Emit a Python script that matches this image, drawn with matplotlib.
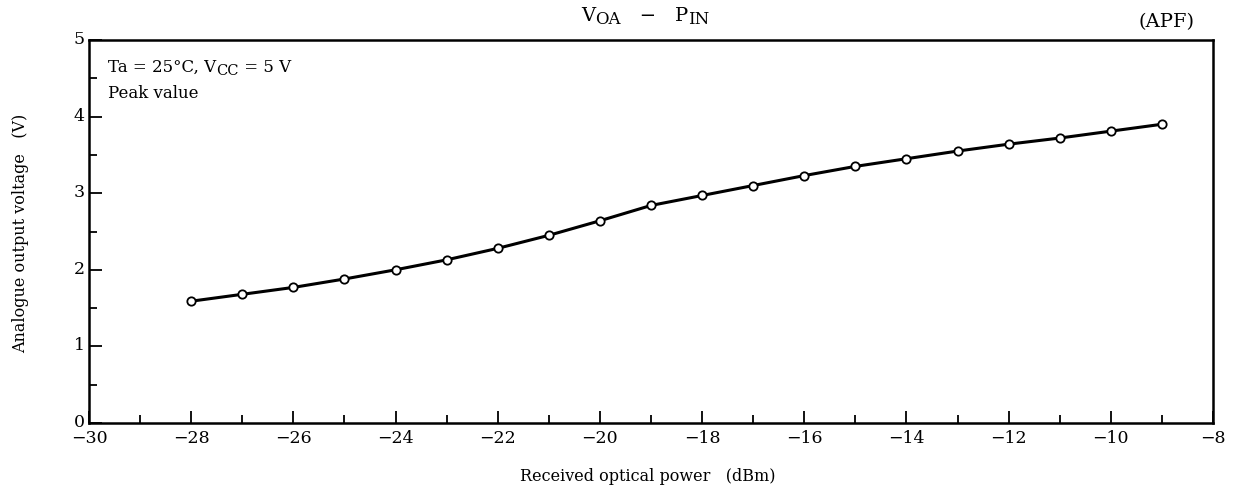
import matplotlib
matplotlib.use("Agg")
import matplotlib.pyplot as plt
from matplotlib.ticker import MultipleLocator
from matplotlib.transforms import IdentityTransform, ScaledTranslation

power_dbm = [-28, -27, -26, -25, -24, -23, -22, -21, -20, -19,
             -18, -17, -16, -15, -14, -13, -12, -11, -10, -9]
voltage_v = [1.59, 1.68, 1.77, 1.88, 2.00, 2.13, 2.28, 2.45, 2.64, 2.84,
             2.97, 3.10, 3.23, 3.35, 3.45, 3.55, 3.64, 3.72, 3.81, 3.90]
x_ticks = [-30, -28, -26, -24, -22, -20, -18, -16, -14, -12, -10, -8]
y_ticks = [0, 1, 2, 3, 4, 5]

plt.rcParams['font.family'] = ['DejaVu Serif']

W, H = 1234, 491
fig = plt.figure(figsize=(W / 100, H / 100), dpi=100)
ax = fig.add_axes([89 / W, 1 - 423 / H, (1213 - 89) / W, (423 - 40) / H])

ax.plot(power_dbm, voltage_v, color='black', lw=2.2, marker='o',
        markersize=6, markerfacecolor='white', markeredgecolor='black',
        markeredgewidth=1.3, zorder=3)

ax.set_xlim(-30, -8)
ax.set_ylim(0, 5)
ax.set_xticks(x_ticks)
ax.set_xticklabels(['\u2212' + str(abs(v)) for v in x_ticks])
ax.set_yticks(y_ticks)
ax.xaxis.set_minor_locator(MultipleLocator(1))
ax.yaxis.set_minor_locator(MultipleLocator(0.5))
ax.tick_params(which='both', direction='in', labelsize=12.5, width=1.3)
ax.tick_params(which='major', length=9)
ax.tick_params(which='minor', length=5.5)
ax.tick_params(axis='x', pad=5)
ax.tick_params(axis='y', pad=3)
for s in ax.spines.values():
    s.set_linewidth(1.8)

# lift y tick labels slightly, as in the reference
shift = ScaledTranslation(0, 2.5 / 100, fig.dpi_scale_trans)
for lab in ax.get_yticklabels():
    lab.set_transform(lab.get_transform() + shift)

renderer = fig.canvas.get_renderer()


def rich_text(x_px, y_px, pieces, ha='left'):
    """pieces: list of (text, fontsize, dy_px); dy < 0 lowers the piece.
    x_px, y_px are pixels from the top-left corner (baseline)."""
    objs = []
    widths = []
    for txt, size, dy in pieces:
        t = fig.text(0, 0, txt, fontsize=size, va='baseline', ha='left',
                     transform=IdentityTransform())
        bb = t.get_window_extent(renderer)
        objs.append((t, dy))
        widths.append(bb.width)
    total = sum(widths)
    if ha == 'center':
        x0 = x_px - total / 2
    elif ha == 'right':
        x0 = x_px - total
    else:
        x0 = x_px
    cx = x0
    for (t, dy), w in zip(objs, widths):
        t.set_position((cx, H - y_px + dy))
        cx += w


# Title and tag
rich_text(645, 21, [('V', 14, 0), ('OA', 12, -3.5), ('   \u2212   ', 14, 0),
                    ('P', 14, 0), ('IN', 12, -3.5)], ha='center')
fig.text(1194 / W, 1 - 27 / H, '(APF)', fontsize=14, ha='right', va='baseline')

# Condition text
rich_text(108, 72, [('Ta = 25°C, V', 12, 0), ('CC', 10.5, -3), (' = 5 V', 12, 0)])
fig.text(108 / W, 1 - 98 / H, 'Peak value', fontsize=12, ha='left', va='baseline')

# Axis labels
fig.text(648 / W, 1 - 481 / H, 'Received optical power   (dBm)', fontsize=11.5,
         ha='center', va='baseline')
fig.text(21 / W, 1 - 233 / H, 'Analogue output voltage   (V)', fontsize=11.5,
         ha='center', va='center', rotation=90)

fig.savefig('out.png', dpi=100)
